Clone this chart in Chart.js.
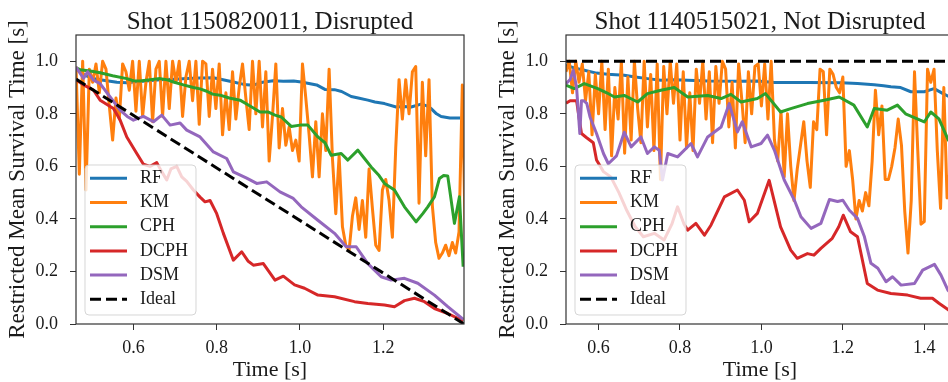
<!DOCTYPE html>
<html lang="en">
<head>
<meta charset="UTF-8">
<title>Restricted Mean Survival Time</title>
<script src="https://cdn.jsdelivr.net/npm/chart.js"></script>
<style>
  html, body { margin: 0; padding: 0; background: #fff; overflow: hidden; }
  #wrap { position: relative; width: 948px; height: 382px; overflow: hidden; }
  #wrap canvas { position: absolute; top: 0; }
  #left { left: 0; }
  #right { left: 474px; }
</style>
</head>
<body>
<div id="wrap">
  <canvas id="left" width="474" height="382"></canvas>
  <canvas id="right" width="490" height="382"></canvas>
</div>
<script>
// ---- data ----
var yTicks = [0.0, 0.2, 0.4, 0.6, 0.8, 1.0];
var xTicksLeft = [0.6, 0.8, 1.0, 1.2];
var xTicksRight = [0.6, 0.8, 1.0, 1.2, 1.4];

// Shot 1150820011, Disrupted
var rfLeft = [[0.462,0.97],[0.48,0.95],[0.50,0.935],[0.52,0.93],[0.54,0.925],[0.56,0.92],[0.584,0.918],[0.60,0.921],[0.63,0.925],[0.664,0.93],[0.70,0.932],[0.728,0.934],[0.76,0.936],[0.792,0.937],[0.815,0.93],[0.84,0.921],[0.865,0.912],[0.888,0.909],[0.91,0.92],[0.936,0.926],[0.96,0.924],[0.985,0.925],[1.003,0.921],[1.04,0.91],[1.06,0.893],[1.083,0.892],[1.10,0.885],[1.123,0.866],[1.14,0.86],[1.163,0.852],[1.18,0.845],[1.203,0.839],[1.231,0.826],[1.25,0.828],[1.267,0.826],[1.291,0.837],[1.305,0.83],[1.315,0.82],[1.328,0.80],[1.339,0.79],[1.36,0.784],[1.385,0.784]];
var cphLeft = [[0.462,0.975],[0.472,0.968],[0.50,0.962],[0.52,0.956],[0.55,0.945],[0.584,0.934],[0.60,0.926],[0.616,0.925],[0.64,0.93],[0.664,0.934],[0.68,0.93],[0.696,0.921],[0.72,0.91],[0.744,0.90],[0.76,0.895],[0.776,0.886],[0.79,0.875],[0.808,0.871],[0.83,0.86],[0.856,0.852],[0.88,0.83],[0.904,0.807],[0.923,0.807],[0.94,0.795],[0.955,0.788],[0.979,0.752],[1.0,0.757],[1.019,0.757],[1.043,0.712],[1.06,0.69],[1.075,0.642],[1.099,0.649],[1.115,0.624],[1.139,0.662],[1.155,0.63],[1.171,0.598],[1.19,0.565],[1.203,0.535],[1.227,0.51],[1.251,0.446],[1.279,0.389],[1.295,0.42],[1.307,0.446],[1.323,0.484],[1.335,0.554],[1.345,0.565],[1.355,0.563],[1.371,0.383],[1.383,0.484],[1.392,0.218]];
var dcphLeft = [[0.462,0.93],[0.48,0.91],[0.504,0.89],[0.52,0.852],[0.552,0.82],[0.568,0.776],[0.584,0.712],[0.608,0.649],[0.624,0.608],[0.64,0.60],[0.656,0.614],[0.668,0.58],[0.68,0.548],[0.69,0.59],[0.704,0.60],[0.716,0.56],[0.728,0.543],[0.744,0.51],[0.76,0.483],[0.772,0.465],[0.784,0.47],[0.80,0.42],[0.816,0.345],[0.84,0.243],[0.86,0.275],[0.875,0.24],[0.888,0.224],[0.912,0.23],[0.94,0.167],[0.96,0.182],[0.987,0.149],[1.011,0.136],[1.043,0.11],[1.083,0.104],[1.131,0.085],[1.163,0.078],[1.203,0.072],[1.227,0.066],[1.251,0.089],[1.275,0.098],[1.299,0.085],[1.323,0.059],[1.355,0.04],[1.392,0.012]];
var dsmLeft = [[0.462,0.978],[0.48,0.935],[0.49,0.96],[0.504,0.928],[0.52,0.915],[0.544,0.864],[0.568,0.814],[0.585,0.79],[0.60,0.776],[0.624,0.79],[0.648,0.77],[0.668,0.795],[0.688,0.757],[0.712,0.765],[0.728,0.738],[0.76,0.712],[0.792,0.655],[0.824,0.63],[0.84,0.579],[0.872,0.555],[0.896,0.535],[0.92,0.541],[0.952,0.503],[0.984,0.478],[1.003,0.446],[1.043,0.395],[1.083,0.345],[1.111,0.294],[1.135,0.294],[1.163,0.23],[1.195,0.18],[1.219,0.167],[1.251,0.174],[1.283,0.155],[1.323,0.11],[1.355,0.066],[1.392,0.018]];
var idealLeft = [[0.462,0.932],[1.394,0.0]];
// KM sampled every 0.008 s from 0.462 s
var kmLeftStart = 0.462;
var kmLeft = [0.98,0.57,1.0,0.51,0.97,0.92,0.99,0.88,1.0,0.97,0.83,0.70,0.86,0.78,0.99,0.96,0.89,1.0,0.81,1.0,
  0.79,0.92,1.0,0.77,0.97,1.0,0.79,1.0,0.82,1.0,0.92,1.0,0.79,0.94,1.0,0.85,1.0,0.76,1.0,0.99,
  0.79,0.97,0.82,0.99,0.72,0.88,0.74,0.96,0.78,0.90,0.99,0.86,0.74,1.0,0.80,1.0,0.75,0.96,0.62,0.79,
  0.99,0.67,0.82,0.68,0.75,0.66,0.70,0.62,0.99,0.86,0.72,0.56,0.77,0.56,0.80,0.66,0.97,0.63,0.42,0.64,
  0.37,0.30,0.28,0.41,0.48,0.36,0.47,0.33,0.59,0.44,0.30,0.28,0.51,0.55,0.47,0.33,0.67,0.93,0.78,0.93,
  0.80,0.96,0.98,0.46,0.92,0.64,0.93,0.45,0.31,0.25,0.27,0.30,0.26,0.31,0.27,0.35,0.91,0.25];

// Shot 1140515021, Not Disrupted
var rfRight = [[0.52,0.985],[0.54,0.975],[0.565,0.966],[0.595,0.955],[0.622,0.951],[0.663,0.947],[0.69,0.94],[0.72,0.934],[0.753,0.928],[0.786,0.93],[0.868,0.925],[0.95,0.924],[0.99,0.925],[1.032,0.919],[1.114,0.919],[1.196,0.918],[1.236,0.915],[1.277,0.911],[1.30,0.907],[1.318,0.903],[1.342,0.90],[1.367,0.884],[1.40,0.884],[1.424,0.896],[1.445,0.878],[1.459,0.867],[1.47,0.862]];
var cphRight = [[0.52,0.909],[0.54,0.896],[0.565,0.915],[0.598,0.896],[0.62,0.88],[0.639,0.864],[0.663,0.87],[0.696,0.845],[0.72,0.877],[0.753,0.89],[0.786,0.90],[0.819,0.864],[0.868,0.87],[0.901,0.858],[0.925,0.874],[0.95,0.845],[0.99,0.858],[1.01,0.877],[1.047,0.807],[1.072,0.82],[1.113,0.839],[1.154,0.852],[1.191,0.864],[1.227,0.833],[1.26,0.75],[1.277,0.82],[1.309,0.814],[1.334,0.833],[1.354,0.80],[1.40,0.769],[1.416,0.807],[1.436,0.781],[1.459,0.70],[1.47,0.68]];
var dcphRight = [[0.52,0.84],[0.53,0.85],[0.546,0.85],[0.558,0.725],[0.57,0.71],[0.587,0.69],[0.595,0.624],[0.612,0.58],[0.63,0.56],[0.65,0.50],[0.67,0.43],[0.69,0.37],[0.71,0.332],[0.737,0.345],[0.761,0.32],[0.78,0.38],[0.794,0.446],[0.81,0.38],[0.819,0.357],[0.839,0.383],[0.86,0.338],[0.876,0.376],[0.909,0.484],[0.941,0.51],[0.958,0.471],[0.97,0.389],[0.99,0.421],[1.019,0.547],[1.047,0.37],[1.072,0.281],[1.088,0.25],[1.113,0.268],[1.129,0.262],[1.146,0.288],[1.174,0.326],[1.19,0.37],[1.201,0.414],[1.219,0.351],[1.236,0.332],[1.26,0.154],[1.285,0.129],[1.318,0.116],[1.359,0.11],[1.391,0.098],[1.42,0.098],[1.436,0.079],[1.459,0.054],[1.47,0.045]];
var dsmRight = [[0.52,0.915],[0.53,0.93],[0.538,0.966],[0.546,0.9],[0.554,0.725],[0.558,0.85],[0.563,0.85],[0.571,0.84],[0.579,0.788],[0.595,0.725],[0.612,0.649],[0.624,0.61],[0.644,0.64],[0.663,0.73],[0.68,0.674],[0.704,0.712],[0.72,0.649],[0.737,0.674],[0.749,0.661],[0.757,0.548],[0.77,0.649],[0.794,0.636],[0.827,0.687],[0.843,0.636],[0.868,0.712],[0.901,0.75],[0.921,0.839],[0.941,0.731],[0.953,0.77],[0.975,0.674],[0.999,0.687],[1.015,0.719],[1.032,0.661],[1.056,0.548],[1.081,0.471],[1.097,0.408],[1.122,0.364],[1.146,0.383],[1.167,0.474],[1.187,0.466],[1.2,0.471],[1.216,0.433],[1.236,0.402],[1.253,0.332],[1.269,0.231],[1.286,0.212],[1.306,0.161],[1.322,0.18],[1.343,0.148],[1.376,0.154],[1.396,0.205],[1.425,0.227],[1.441,0.186],[1.458,0.129],[1.47,0.11]];
var idealRight = [[0.52,1.0],[1.473,1.0]];
// KM sampled every 0.008 s from 0.52 s
var kmRightStart = 0.52;
var kmRight = [0.96,1.0,0.88,1.0,0.92,0.99,0.85,0.96,0.72,0.95,0.80,1.0,0.74,0.97,0.64,0.90,0.78,1.0,0.65,0.94,
  0.70,1.0,0.82,0.69,1.0,0.75,0.95,0.66,0.99,0.55,0.98,0.80,1.0,0.84,0.99,0.70,0.96,0.67,0.88,0.66,
  0.97,0.84,1.0,0.78,0.96,0.69,0.98,0.84,1.0,0.97,0.75,0.92,0.67,0.99,0.85,0.69,0.96,0.80,0.98,0.99,
  0.83,0.99,0.78,1.0,0.70,0.62,0.81,0.56,0.80,0.60,0.47,0.59,0.68,0.77,0.62,0.52,0.77,0.74,0.97,0.96,
  0.72,0.97,0.95,0.90,0.88,0.94,0.60,0.66,0.55,0.40,0.47,0.43,0.50,0.45,0.62,0.89,0.72,0.83,0.55,0.55,
  0.60,0.67,0.78,0.68,0.43,0.27,0.47,0.96,0.66,0.38,0.39,0.97,0.92,0.97,0.66,0.44,0.90,0.48,0.60];

var labels = ['RF', 'KM', 'CPH', 'DCPH', 'DSM', 'Ideal'];
var colors = ['#1f77b4', '#ff7f0e', '#2ca02c', '#d62728', '#9467bd', '#000000'];

// ---- helpers ----
var SERIF = '"Liberation Serif", "DejaVu Serif", serif';
Chart.defaults.font.family = SERIF;
Chart.defaults.color = '#1a1a1a';

function toPoints(pairs) {
  return pairs.map(function (p) { return {x: p[0], y: p[1]}; });
}
function kmPoints(start, vals) {
  return vals.map(function (v, i) { return {x: +(start + i * 0.008).toFixed(3), y: v}; });
}
function line(i, pts, order) {
  return {
    label: labels[i],
    data: pts,
    borderColor: colors[i],
    backgroundColor: colors[i],
    borderWidth: 3,
    borderDash: i === 5 ? [11, 5] : [],
    pointRadius: 0,
    tension: 0,
    fill: false,
    order: order,
    borderJoinStyle: 'round'
  };
}

// frame, title and in-axes legend
var panelDecor = {
  id: 'panelDecor',
  afterDatasetsDraw: function (chart, args, opts) {
    var ctx = chart.ctx, a = chart.chartArea;
    ctx.save();
    ctx.strokeStyle = '#333';
    ctx.lineWidth = 1.2;
    ctx.setLineDash([]);
    ctx.strokeRect(a.left, a.top, a.right - a.left, a.bottom - a.top);

    ctx.fillStyle = '#1a1a1a';
    ctx.font = '25px ' + SERIF;
    ctx.textAlign = 'center';
    ctx.textBaseline = 'alphabetic';
    ctx.fillText(opts.title, (a.left + a.right) / 2, 29);

    var bx = a.left + 9, bw = 111, bh = 150, by = a.bottom - 9 - bh;
    ctx.beginPath();
    ctx.roundRect(bx, by, bw, bh, 4);
    ctx.fillStyle = 'rgba(255,255,255,0.8)';
    ctx.fill();
    ctx.strokeStyle = 'rgba(204,204,204,0.8)';
    ctx.lineWidth = 1;
    ctx.stroke();

    ctx.font = '18px ' + SERIF;
    ctx.textAlign = 'left';
    ctx.textBaseline = 'middle';
    for (var i = 0; i < labels.length; i++) {
      var y = by + 13.3 + i * 24.2;
      ctx.beginPath();
      ctx.setLineDash(i === 5 ? [11, 5] : []);
      ctx.strokeStyle = colors[i];
      ctx.lineWidth = 3;
      ctx.moveTo(bx + 5, y);
      ctx.lineTo(bx + 42, y);
      ctx.stroke();
      ctx.setLineDash([]);
      ctx.fillStyle = '#1a1a1a';
      ctx.fillText(labels[i], bx + 55, y);
    }
    ctx.restore();
  }
};

function makeChart(id, title, xmin, xmax, xTicks, padLeft, sets) {
  var gridOpts = { drawOnChartArea: false, drawTicks: true, tickLength: 6, color: '#333', lineWidth: 1 };
  return new Chart(document.getElementById(id).getContext('2d'), {
    type: 'line',
    data: {
      datasets: [
        line(0, sets[0], 5),
        line(1, sets[1], 4),
        line(2, sets[2], 3),
        line(3, sets[3], 2),
        line(4, sets[4], 1),
        line(5, sets[5], 0)
      ]
    },
    options: {
      responsive: false,
      animation: false,
      events: [],
      layout: { padding: { top: 35, left: padLeft, right: 10, bottom: 0 } },
      scales: {
        x: {
          type: 'linear',
          min: xmin,
          max: xmax,
          afterFit: function (s) { s.height = 58; },
          afterBuildTicks: function (s) { s.ticks = xTicks.map(function (v) { return {value: v}; }); },
          ticks: {
            autoSkip: false, maxRotation: 0, padding: 7, color: '#1a1a1a',
            font: { size: 18 },
            callback: function (v) { return v.toFixed(1); }
          },
          grid: gridOpts,
          border: { display: false },
          title: { display: true, text: 'Time [s]', color: '#1a1a1a', font: { size: 22, lineHeight: 1.1 }, padding: 0 }
        },
        y: {
          min: 0,
          max: 1.1,
          afterFit: function (s) { s.width = 76; },
          afterBuildTicks: function (s) { s.ticks = yTicks.map(function (v) { return {value: v}; }); },
          ticks: {
            padding: 12, color: '#1a1a1a',
            font: { size: 18 },
            callback: function (v) { return v.toFixed(1); }
          },
          grid: gridOpts,
          border: { display: false },
          title: { display: true, text: 'Restricted Mean Survival Time [s]', color: '#1a1a1a', font: { size: 23 }, padding: { top: 4, bottom: 0 } }
        }
      },
      plugins: {
        legend: { display: false },
        tooltip: { enabled: false },
        title: { display: false },
        panelDecor: { title: title }
      }
    },
    plugins: [panelDecor]
  });
}

makeChart('left', 'Shot 1150820011, Disrupted', 0.462, 1.394, xTicksLeft, 0,
  [toPoints(rfLeft), kmPoints(kmLeftStart, kmLeft), toPoints(cphLeft), toPoints(dcphLeft), toPoints(dsmLeft), toPoints(idealLeft)]);

makeChart('right', 'Shot 1140515021, Not Disrupted', 0.52, 1.473, xTicksRight, 16,
  [toPoints(rfRight), kmPoints(kmRightStart, kmRight), toPoints(cphRight), toPoints(dcphRight), toPoints(dsmRight), toPoints(idealRight)]);
</script>
</body>
</html>
